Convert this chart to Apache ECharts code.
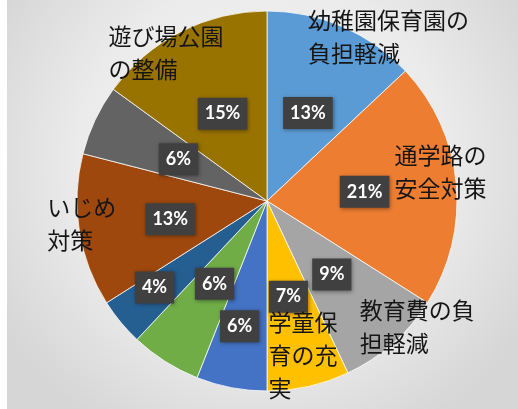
<!DOCTYPE html>
<html>
<head>
<meta charset="utf-8">
<script src="https://cdn.jsdelivr.net/npm/echarts@6/dist/echarts.min.js"></script>
<style>
  html, body { margin: 0; padding: 0; background: #ffffff; }
  #chart { position: absolute; left: 7px; top: 0; width: 511px; height: 409px; }
</style>
</head>
<body>
<div id="chart"></div>
<script>
const categories = [
  "幼稚園保育園の\n負担軽減",
  "通学路の\n安全対策",
  "教育費の負\n担軽減",
  "学童保\n育の充\n実",
  "",
  "",
  "",
  "いじめ\n対策",
  "",
  "遊び場公園\nの整備"
];
const values = [13, 21, 9, 7, 6, 6, 4, 13, 6, 15];
const colors = [
  "#5B9BD5", "#ED7D31", "#A5A5A5", "#FFC000", "#4472C4",
  "#70AD47", "#255E91", "#9E480E", "#636363", "#997300"
];

// nudges from the default inside anchor
const pctShift = { 0: [2, 2], 4: [-9, 29], 6: [-37, 24], 7: [0, 3] };
const nameShift = {
  0: [2, -74],
  1: [30, -20],
  2: [28, 52],
  3: [-20, 59],
  7: [-123, 7],
  9: [-114, -61]
};

const chart = echarts.init(document.getElementById("chart"));

const pieData = values.map((v, i) => ({
  name: categories[i] || ("item" + i),
  value: v,
  itemStyle: { color: colors[i] }
}));

chart.setOption({
  backgroundColor: {
    type: "radial", x: 0.5, y: 0.4, r: 0.75,
    colorStops: [
      { offset: 0, color: "#f4f4f4" },
      { offset: 0.6, color: "#ebebeb" },
      { offset: 1, color: "#d6d6d6" }
    ]
  },
  animation: false,
  series: [
    {
      type: "pie",
      center: [260, 201],
      radius: 190,
      startAngle: 90,
      data: pieData,
      itemStyle: { borderColor: "rgba(255,255,255,0.75)", borderWidth: 1 },
      label: {
        position: "inside",
        formatter: p => p.value + "%",
        color: "#ffffff",
        fontFamily: "Lato",
        fontWeight: "bold",
        fontSize: 18,
        backgroundColor: "#404040",
        padding: [8, 7, 6, 7],
        shadowColor: "rgba(0,0,0,0.4)",
        shadowBlur: 4,
        shadowOffsetX: 1,
        shadowOffsetY: 1
      },
      labelLayout: p => {
        const s = pctShift[p.dataIndex];
        return s ? { dx: s[0], dy: s[1] } : {};
      },
      emphasis: { disabled: true }
    },
    {
      type: "pie",
      center: [260, 201],
      radius: 190,
      startAngle: 90,
      silent: true,
      data: pieData.map((d, i) => ({
        name: d.name,
        value: d.value,
        itemStyle: { color: "rgba(0,0,0,0)", borderWidth: 0 },
        label: { show: !!categories[i] }
      })),
      label: {
        position: "inside",
        formatter: p => categories[p.dataIndex],
        color: "#151515",
        fontFamily: "Noto Sans CJK JP",
        fontSize: 23,
        lineHeight: 33
      },
      labelLayout: p => {
        const s = nameShift[p.dataIndex];
        return s ? { dx: s[0], dy: s[1], align: "left", verticalAlign: "middle" } : {};
      },
      emphasis: { disabled: true }
    }
  ]
});
</script>
</body>
</html>
